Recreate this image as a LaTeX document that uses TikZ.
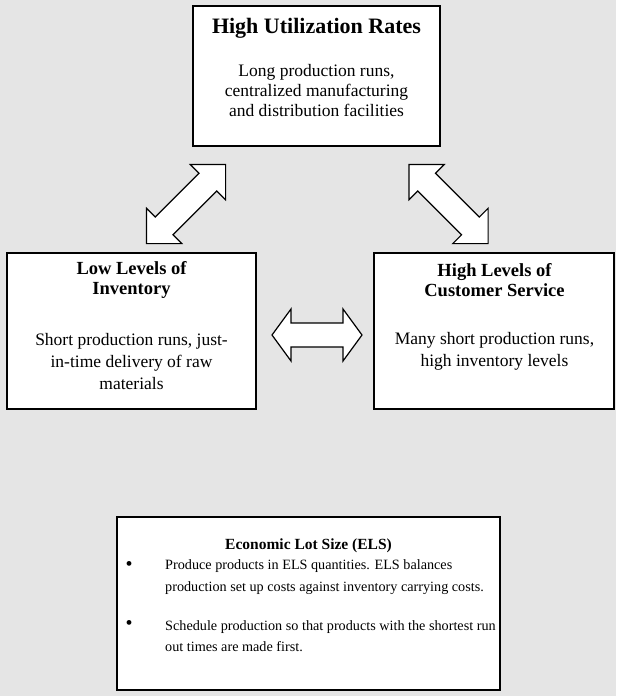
\documentclass[tikz,border=0pt]{standalone}
\usepackage{fontspec}
\setmainfont{Liberation Serif}
\definecolor{bggray}{RGB}{229,229,229}
\tikzset{
  box/.style={draw=black, fill=white, line width=2pt, inner sep=0pt},
  ttl/.style={font=\fontsize{18.5}{20.5}\selectfont\bfseries, align=center, inner sep=0pt},
  body/.style={font=\fontsize{17.5}{22}\selectfont, align=center, inner sep=0pt},
  small/.style={font=\fontsize{14.2}{21.5}\selectfont, align=left, inner sep=0pt, anchor=west},
  bulletnode/.style={font=\fontsize{20}{20}\selectfont, inner sep=0pt},
  arrowshape/.style={draw=black, fill=white, line width=1.2pt, line join=miter},
}
% double block arrow: half length, head length, head half width, shaft half width
\newcommand\blockarrow[4]{%
  \path[arrowshape] (-#1,0) -- (-#1+#2,#3) -- (-#1+#2,#4) -- (#1-#2,#4) -- (#1-#2,#3)
    -- (#1,0) -- (#1-#2,-#3) -- (#1-#2,-#4) -- (-#1+#2,-#4) -- (-#1+#2,-#3) -- cycle;}
\begin{document}
\begin{tikzpicture}[x=1pt,y=-1pt]
\path[use as bounding box, fill=bggray] (0,0) rectangle (616,696);

% boxes
\node[box, minimum width=247pt, minimum height=140pt] (topbox) at (316.5,76) {};
\node[box, minimum width=249pt, minimum height=156pt] (leftbox) at (131.5,331) {};
\node[box, minimum width=240pt, minimum height=156pt] (rightbox) at (494,331) {};
\node[box, minimum width=383pt, minimum height=173pt] (elsbox) at (308.5,603.5) {};

% texts
\node[ttl, font=\fontsize{22}{24}\selectfont\bfseries] (toptitle) at (316.5,28) {High Utilization Rates};
\node[body, font=\fontsize{17.5}{20}\selectfont] (topbody) at (316.5,91) {Long production runs,\\centralized manufacturing\\and distribution facilities};

\node[ttl] (lefttitle) at (131.5,280) {Low Levels of\\Inventory};
\node[body] (leftbody) at (131.5,362) {Short production runs, just-\\in-time delivery of raw\\materials};

\node[ttl] (righttitle) at (494.5,280) {High Levels of\\Customer Service};
\node[body] (rightbody) at (494.5,351) {Many short production runs,\\high inventory levels};

\node[ttl, font=\fontsize{15.5}{18}\selectfont\bfseries] (elstitle) at (308.5,546) {Economic Lot Size (ELS)};
\node[bulletnode] (bul1) at (129,566) {•};
\node[small] (els1) at (165,577) {Produce products in ELS quantities. ELS balances\\production set up costs against inventory carrying costs.};
\node[bulletnode] (bul2) at (129,625) {•};
\node[small] (els2) at (165,636) {Schedule production so that products with the shortest run\\out times are made first.};

% arrows
\begin{scope}[shift={(186,204)}, rotate=45]
  \blockarrow{56}{25}{25}{12.5}
\end{scope}
\begin{scope}[shift={(448.5,204)}, rotate=-45]
  \blockarrow{56}{25}{25}{12.5}
\end{scope}
\begin{scope}[shift={(317,335)}]
  \blockarrow{45}{19}{26}{12}
\end{scope}
\end{tikzpicture}
\end{document}
